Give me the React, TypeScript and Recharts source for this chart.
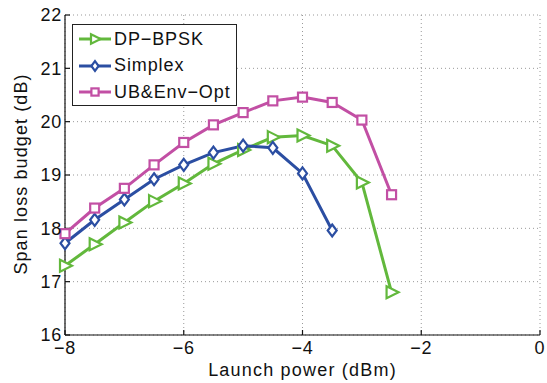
import React from "react";
import {
  LineChart,
  Line,
  XAxis,
  YAxis,
  CartesianGrid,
} from "recharts";

const launchPower = [-8, -7.5, -7, -6.5, -6, -5.5, -5, -4.5, -4, -3.5, -3, -2.5];
const dpBpsk = [17.3, 17.7, 18.11, 18.51, 18.84, 19.21, 19.47, 19.71, 19.74, 19.55, 18.86, 16.8];
const simplex = [17.72, 18.16, 18.54, 18.92, 19.19, 19.42, 19.55, 19.51, 19.03, 17.96];
const ubEnvOpt = [17.9, 18.38, 18.75, 19.19, 19.61, 19.94, 20.17, 20.39, 20.46, 20.36, 20.03, 18.63];

const xTicks = [-8, -6, -4, -2, 0];
const yTicks = [16, 17, 18, 19, 20, 21, 22];

const GREEN = "#62b83c";
const BLUE = "#2b4ea2";
const MAGENTA = "#c24fa4";
const FONT = "'Liberation Sans', Arial, sans-serif";

const data = launchPower.map((x, i) => ({
  x,
  dp: dpBpsk[i],
  sx: simplex[i],
  ub: ubEnvOpt[i],
}));

type Shape = "tri" | "dia" | "sq";

const Marker = ({ cx, cy, shape, color, s = 1 }: { cx: number; cy: number; shape: Shape; color: string; s?: number }) => {
  if (cx == null || cy == null || isNaN(cy)) return null;
  if (shape === "tri") {
    return (
      <polygon
        points={`${cx - 5 * s},${cy - 6 * s} ${cx + 7 * s},${cy} ${cx - 5 * s},${cy + 6 * s}`}
        fill="#fff"
        stroke={color}
        strokeWidth={2.2}
      />
    );
  }
  if (shape === "dia") {
    return (
      <polygon
        points={`${cx},${cy - 6 * s} ${cx + 4.5 * s},${cy} ${cx},${cy + 6 * s} ${cx - 4.5 * s},${cy}`}
        fill="#fff"
        stroke={color}
        strokeWidth={2.2}
      />
    );
  }
  return <rect x={cx - 4.5 * s} y={cy - 4.5 * s} width={9 * s} height={9 * s} fill="#fff" stroke={color} strokeWidth={2.2} />;
};

const series = [
  { key: "dp", name: "DP\u2212BPSK", color: GREEN, shape: "tri" as Shape },
  { key: "sx", name: "Simplex", color: BLUE, shape: "dia" as Shape },
  { key: "ub", name: "UB&Env\u2212Opt", color: MAGENTA, shape: "sq" as Shape },
];

const LegendBox = () => (
  <div
    style={{
      position: "absolute",
      left: 72,
      top: 24,
      width: 165,
      height: 82,
      border: "1.5px solid #222",
      background: "#fff",
      paddingTop: 1,
      boxSizing: "border-box",
      fontFamily: FONT,
      fontSize: 18,
      letterSpacing: 0.9,
    }}
  >
    {series.map((s) => (
      <div key={s.key} style={{ display: "flex", alignItems: "center", height: 26.5 }}>
        <svg width={40} height={20} style={{ marginLeft: 4, flex: "none" }}>
          <line x1={2} y1={10} x2={34} y2={10} stroke={s.color} strokeWidth={3} />
          <Marker cx={18} cy={10} shape={s.shape} color={s.color} s={0.8} />
        </svg>
        <span style={{ marginLeft: -3, color: "#111", whiteSpace: "nowrap" }}>{s.name}</span>
      </div>
    ))}
  </div>
);

export default function App() {
  const tickStyle = { fontSize: 18, fill: "#111", fontFamily: FONT, letterSpacing: 0.8 };
  return (
    <div style={{ position: "absolute", left: 0, top: 0, width: 547, height: 383, background: "#fff" }}>
      <LineChart width={547} height={383} data={data} margin={{ top: 15, right: 7, bottom: 0, left: 0 }}>
        <CartesianGrid stroke="#999" strokeDasharray="1 3" />
        <XAxis
          dataKey="x"
          type="number"
          domain={[-8, 0]}
          ticks={xTicks}
          tickFormatter={(v: number) => (v < 0 ? `\u2212${Math.abs(v)}` : `${v}`)}
          tick={tickStyle}
          tickSize={-5}
          tickMargin={11}
          height={48}
          stroke="#111"
          strokeWidth={1.2}
          label={{
            value: "Launch power (dBm)",
            position: "insideBottom",
            offset: 7,
            style: { fontSize: 18, fill: "#111", fontFamily: FONT, letterSpacing: 1.2 },
          }}
        />
        <XAxis
          xAxisId="top"
          dataKey="x"
          type="number"
          orientation="top"
          domain={[-8, 0]}
          ticks={xTicks}
          tick={false}
          tickSize={-5}
          height={0}
          stroke="#111"
          strokeWidth={1.2}
        />
        <YAxis
          type="number"
          domain={[16, 22]}
          ticks={yTicks}
          tick={tickStyle}
          tickSize={-5}
          tickMargin={8}
          width={65}
          stroke="#111"
          strokeWidth={1.2}
        />
        <YAxis
          yAxisId="right"
          orientation="right"
          type="number"
          domain={[16, 22]}
          ticks={yTicks}
          tick={false}
          tickSize={-5}
          width={0}
          stroke="#111"
          strokeWidth={1.2}
        />
        {series.map((s) => (
          <Line
            key={s.key}
            dataKey={s.key}
            name={s.name}
            stroke={s.color}
            strokeWidth={3}
            isAnimationActive={false}
            connectNulls={false}
            dot={(p: any) => <Marker key={`${s.key}-${p.index}`} cx={p.cx} cy={p.cy} shape={s.shape} color={s.color} />}
            activeDot={false}
          />
        ))}
      </LineChart>
      <div
        style={{
          position: "absolute",
          left: 21,
          top: 174,
          transform: "translate(-50%, -50%) rotate(-90deg)",
          whiteSpace: "nowrap",
          fontFamily: FONT,
          fontSize: 18,
          letterSpacing: 1.1,
          color: "#111",
        }}
      >
        Span loss budget (dB)
      </div>
      <LegendBox />
    </div>
  );
}
